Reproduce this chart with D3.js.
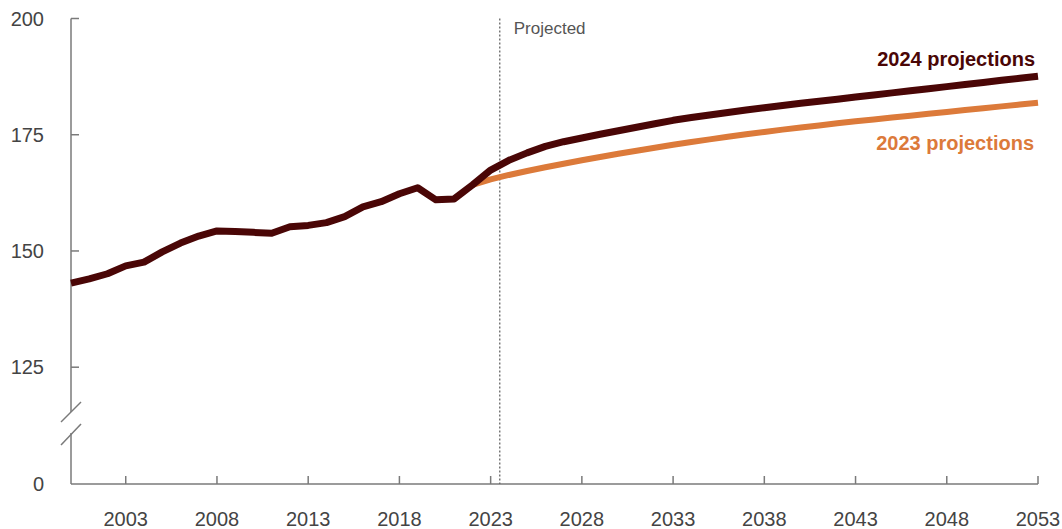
<!DOCTYPE html>
<html>
<head>
<meta charset="utf-8">
<script src="https://cdn.jsdelivr.net/npm/d3@7"></script>
<style>
  html, body { margin: 0; padding: 0; background: #fff; }
  svg { display: block; font-family: "Liberation Sans", Arial, sans-serif; }
</style>
</head>
<body>
<svg id="chart" width="1062" height="529"></svg>
<script>
// ---- Data ----
const years2024 = d3.range(2000, 2054);
const values2024 = [
  143.1, 144.0, 145.1, 146.8, 147.6, 149.8, 151.7, 153.2, 154.3, 154.2,
  154.0, 153.8, 155.2, 155.5, 156.1, 157.4, 159.5, 160.6, 162.3, 163.6,
  161.0, 161.2, 164.2, 167.4, 169.5, 171.1, 172.5, 173.5, 174.3, 175.1,
  175.85, 176.6, 177.35, 178.1, 178.7, 179.25, 179.8, 180.3, 180.8, 181.3,
  181.75, 182.2, 182.65, 183.1, 183.55, 184.0, 184.45, 184.9, 185.35, 185.8,
  186.25, 186.7, 187.15, 187.6
];
const years2023 = d3.range(2022, 2054);
const values2023 = [
  164.2, 165.4, 166.35, 167.2, 168.0, 168.75, 169.5, 170.2, 170.9, 171.55,
  172.2, 172.85, 173.45, 174.0, 174.55, 175.1, 175.6, 176.1, 176.55, 177.0,
  177.45, 177.9, 178.3, 178.7, 179.1, 179.5, 179.9, 180.3, 180.7, 181.1,
  181.5, 181.9
];
const xTickYears = [2003, 2008, 2013, 2018, 2023, 2028, 2033, 2038, 2043, 2048, 2053];
const yTickValues = [125, 150, 175, 200];
const seriesLabels = ["2024 projections", "2023 projections"];
const projectedLabel = "Projected";
const projectedStart = 2023.5;

// ---- Layout ----
(function () {
const svg = d3.select("#chart");
const mLeft = 71, mRight = 1038, mTop = 18.5, mBottom = 484;
const dark = "#4a0606", orange = "#dc7a3a", axisColor = "#7a7a7a", textColor = "#444";

const x = d3.scaleLinear().domain([2000, 2053]).range([mLeft, mRight]);
// broken axis: 0 at baseline, 117.3..200 linear above the break
const y = d3.scaleLinear().domain([0, 117.3, 200]).range([mBottom, 403, mTop]);

// y axis line with break gap
const gapTop = 412, gapBottom = 433;
svg.append("line").attr("x1", mLeft).attr("x2", mLeft).attr("y1", mTop).attr("y2", gapTop)
  .attr("stroke", axisColor).attr("stroke-width", 1.5);
svg.append("line").attr("x1", mLeft).attr("x2", mLeft).attr("y1", gapBottom).attr("y2", mBottom)
  .attr("stroke", axisColor).attr("stroke-width", 1.5);
// break slashes
[[422, 402], [445, 424]].forEach(([y1, y2]) => {
  svg.append("line").attr("x1", mLeft - 10).attr("x2", mLeft + 10).attr("y1", y1).attr("y2", y2)
    .attr("stroke", axisColor).attr("stroke-width", 1.5);
});

// y ticks
const yTicks = svg.append("g");
yTickValues.forEach(v => {
  yTicks.append("line").attr("x1", mLeft).attr("x2", mLeft + 8).attr("y1", y(v)).attr("y2", y(v))
    .attr("stroke", axisColor).attr("stroke-width", 1.5);
  yTicks.append("text").attr("x", 44).attr("y", y(v)).attr("dy", "0.36em")
    .attr("text-anchor", "end").attr("font-size", 20).attr("fill", textColor).text(v);
});
yTicks.append("text").attr("x", 44).attr("y", y(0)).attr("dy", "0.36em")
  .attr("text-anchor", "end").attr("font-size", 20).attr("fill", textColor).text(0);

// x axis
svg.append("line").attr("x1", mLeft).attr("x2", mRight).attr("y1", mBottom).attr("y2", mBottom)
  .attr("stroke", axisColor).attr("stroke-width", 1.5);
const xTicks = svg.append("g");
xTickYears.forEach(t => {
  xTicks.append("line").attr("x1", x(t)).attr("x2", x(t)).attr("y1", mBottom).attr("y2", mBottom - 8)
    .attr("stroke", axisColor).attr("stroke-width", 1.5);
  xTicks.append("text").attr("x", x(t)).attr("y", 526).attr("text-anchor", "middle")
    .attr("font-size", 20).attr("fill", textColor).text(t);
});

// projected divider
svg.append("line").attr("x1", x(projectedStart)).attr("x2", x(projectedStart))
  .attr("y1", mTop).attr("y2", mBottom)
  .attr("stroke", "#666").attr("stroke-width", 1.3).attr("stroke-dasharray", "2,2");
svg.append("text").attr("x", x(projectedStart) + 14).attr("y", 34)
  .attr("font-size", 17).attr("fill", "#555").text(projectedLabel);

// lines
const line = d3.line().x(d => x(d[0])).y(d => y(d[1]));
svg.append("path").datum(d3.zip(years2023, values2023)).attr("d", line)
  .attr("fill", "none").attr("stroke", orange).attr("stroke-width", 6)
  .attr("stroke-linejoin", "round");
svg.append("path").datum(d3.zip(years2024, values2024)).attr("d", line)
  .attr("fill", "none").attr("stroke", dark).attr("stroke-width", 7)
  .attr("stroke-linejoin", "round");

// labels
svg.append("text").attr("x", 1035).attr("y", 66).attr("text-anchor", "end")
  .attr("font-size", 20).attr("font-weight", "bold").attr("fill", dark).text(seriesLabels[0]);
svg.append("text").attr("x", 1034).attr("y", 150).attr("text-anchor", "end")
  .attr("font-size", 20).attr("font-weight", "bold").attr("fill", orange).text(seriesLabels[1]);
})();
</script>
</body>
</html>
